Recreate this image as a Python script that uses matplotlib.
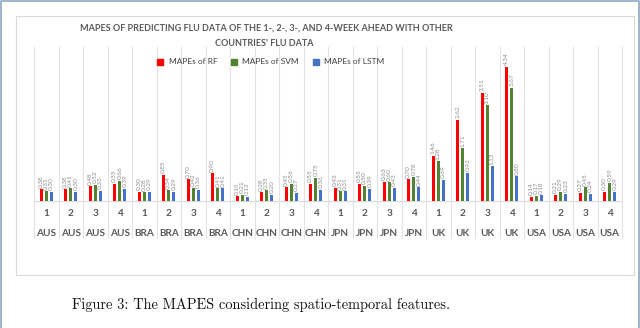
import matplotlib
matplotlib.use("Agg")
from matplotlib import pyplot as plt
from matplotlib.lines import Line2D
from matplotlib.patches import Rectangle
import numpy as np

countries = ["AUS"] * 4 + ["BRA"] * 4 + ["CHN"] * 4 + ["JPN"] * 4 + ["UK"] * 4 + ["USA"] * 4
weeks = ["1", "2", "3", "4"] * 6

mape_rf = [0.38, 0.38, 0.48, 0.55, 0.30, 0.85, 0.70, 0.90,
           0.15, 0.28, 0.45, 0.55, 0.43, 0.55, 0.63, 0.70,
           1.46, 2.62, 3.51, 4.34, 0.14, 0.21, 0.27, 0.30]
mape_svm = [0.31, 0.41, 0.52, 0.66, 0.28, 0.34, 0.42, 0.41,
            0.21, 0.35, 0.56, 0.75, 0.31, 0.50, 0.60, 0.78,
            1.28, 1.71, 3.10, 3.67, 0.17, 0.29, 0.45, 0.59]
mape_lstm = [0.30, 0.30, 0.33, 0.39, 0.29, 0.29, 0.36, 0.41,
             0.13, 0.20, 0.27, 0.36, 0.31, 0.39, 0.43, 0.44,
             0.69, 0.92, 1.13, 0.80, 0.18, 0.23, 0.24, 0.29]

series = [("MAPEs of RF", mape_rf, "#FF0000"),
          ("MAPEs of SVM", mape_svm, "#548235"),
          ("MAPEs of LSTM", mape_lstm, "#4472C4")]

label_gray = "#595959"
font = "Lato"

fig = plt.figure(figsize=(6.4, 3.28), dpi=100)
W, H = 640, 328

def fx(px):
    return px / W

def fy(py):
    return 1 - py / H

# outer page border and inner chart box
fig.add_artist(Line2D([fx(1), fx(1), fx(638.5), fx(638.5)], [0, fy(1), fy(1), 0],
                      color="#8FA7C4", lw=1.2, transform=fig.transFigure))
fig.add_artist(Rectangle((fx(16), fy(275)), fx(634) - fx(16), fy(16) - fy(275),
                         fill=False, ec="#D9D9D9", lw=0.8, transform=fig.transFigure))

left, right, top, bottom = 34, 622, 46.5, 201
ax = fig.add_axes([fx(left), fy(bottom), fx(right) - fx(left), fy(top) - fy(bottom)])

n = len(countries)
x = np.arange(n)
width = 0.13
offsets = [-0.205, 0.0, 0.205]
for (name, vals, color), off in zip(series, offsets):
    ax.bar(x + off, vals, width=width, color=color, label=name, zorder=3)
    for xi, v in zip(x, vals):
        ax.text(xi + off, v + 0.05, f"{v:.2f}", rotation=90, ha="center", va="bottom",
                fontsize=4.6, color="#8C8C8C", family=font, zorder=4)

ax.set_xlim(-0.5, n - 0.5)
ax.set_ylim(0, 5)
ax.axis("off")

# category gridlines running through the label area
ymin_ax = -(238 - bottom) / (bottom - top)
trans = ax.get_xaxis_transform()
for b in np.arange(n + 1) - 0.5:
    ax.plot([b, b], [ymin_ax, 1], color="#E3E3E3", lw=0.8, transform=trans,
            clip_on=False, zorder=1)
ax.plot([-0.5, n - 0.5], [0, 0], color="#D9D9D9", lw=0.8, transform=trans,
        clip_on=False, zorder=2)

for xi, wk, c in zip(x, weeks, countries):
    ax.text(xi, -(214 - bottom) / (bottom - top), wk, transform=trans, ha="center",
            va="center", fontsize=7.2, color=label_gray, family=font, fontweight="bold")
    ax.text(xi, -(233 - bottom) / (bottom - top), c, transform=trans, ha="center",
            va="center", fontsize=7.2, color=label_gray, family=font, fontweight="bold")

fig.text(fx(266), fy(28), "MAPES OF PREDICTING FLU DATA OF THE 1-, 2-, 3-, AND 4-WEEK AHEAD WITH OTHER",
         ha="center", va="center", fontsize=6.5, color=label_gray, family=font, fontweight="bold")
fig.text(fx(264), fy(43), "COUNTRIES' FLU DATA",
         ha="center", va="center", fontsize=6.5, color=label_gray, family=font, fontweight="bold")

handles = [Line2D([], [], marker="s", ls="none", color=c, markersize=4) for _, _, c in series]
fig.legend(handles, [s[0] for s in series], loc="center", bbox_to_anchor=(fx(268), fy(62)),
           ncol=3, frameon=False, handletextpad=0.0, columnspacing=1.0,
           prop={"family": font, "size": 6.0}, labelcolor="#404040")

fig.text(fx(261), fy(305), "Figure 3: The MAPES considering spatio-temporal features.",
         ha="center", va="center", fontsize=10.4, family="cmr10", color="#111111")

fig.savefig("out.png", dpi=100)
